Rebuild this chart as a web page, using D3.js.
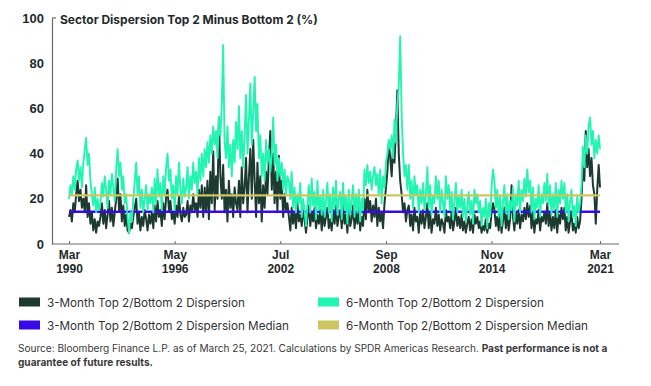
<!DOCTYPE html>
<html>
<head>
<meta charset="utf-8">
<script src="https://cdn.jsdelivr.net/npm/d3@7"></script>
<style>
  body { margin: 0; background: #ffffff; }
  svg { display: block; font-family: "Inter", "Roboto", sans-serif; }
</style>
</head>
<body>
<div class="chart"></div>
<script>
// monthly readings, Mar 1990 .. Mar 2021
var startMonth = new Date(1990, 2, 1);
var endMonth = new Date(2021, 2, 1);

// 3-month top 2 / bottom 2 dispersion (%)
var dispersion3m = [
  12, 15, 10, 18, 14, 22, 28, 19, 24, 16,             // 1990
  20, 14, 26, 12, 18, 9, 14, 6, 11, 5, 10, 8,         // 1991
  12, 18, 9, 15, 7, 13, 19, 10, 16, 8, 14, 20,        // 1992
  29, 15, 22, 10, 17, 8, 13, 6, 5, 9, 7, 12,          // 1993
  16, 20, 9, 14, 6, 12, 8, 15, 11, 6, 13, 9,          // 1994
  14, 7, 17, 10, 19, 12, 15, 8, 18, 11, 21, 24,       // 1995
  15, 19, 11, 14, 9, 17, 12, 21, 13, 10, 16, 12,      // 1996
  13, 19, 10, 17, 14, 22, 15, 18, 12, 24, 16, 26,     // 1997
  12, 25, 14, 28, 11, 32, 18, 41, 15, 30, 20, 56,     // 1998
  30, 20, 35, 14, 24, 10, 28, 16, 22, 12, 25, 18,     // 1999
  15, 28, 12, 34, 18, 25, 38, 14, 30, 42, 20, 46,     // 2000
  28, 12, 36, 18, 30, 10, 26, 16, 32, 22, 38, 50,     // 2001
  24, 40, 18, 32, 14, 39, 20, 28, 12, 22, 15, 18,     // 2002
  12, 6, 16, 9, 14, 7, 18, 10, 13, 8, 15, 11,         // 2003
  5, 12, 17, 8, 14, 10, 16, 7, 13, 9, 15, 6,          // 2004
  14, 8, 12, 16, 7, 11, 6, 15, 9, 17, 8, 12,          // 2005
  15, 7, 18, 9, 13, 5, 16, 8, 11, 17, 7, 14,          // 2006
  9, 16, 6, 12, 8, 20, 11, 24, 14, 19, 10, 17,        // 2007
  12, 20, 8, 16, 10, 14, 7, 18, 25, 32, 45, 38,       // 2008
  30, 44, 36, 50, 68, 40, 28, 22, 14, 18, 10, 15,     // 2009
  17, 8, 13, 6, 16, 10, 12, 5, 14, 9, 15, 7,          // 2010
  12, 18, 7, 14, 5, 11, 9, 16, 8, 13, 6, 11,          // 2011
  9, 5, 15, 10, 12, 7, 14, 6, 10, 16, 8, 12,          // 2012
  7, 13, 6, 10, 5, 9, 12, 6, 11, 5, 13, 9,            // 2013
  12, 7, 10, 5, 8, 6, 11, 5, 9, 7, 14, 18,            // 2014
  15, 8, 12, 6, 14, 5, 10, 16, 7, 13, 6, 11,          // 2015
  26, 12, 6, 14, 9, 15, 7, 13, 10, 16, 11, 18,        // 2016
  12, 17, 7, 14, 5, 11, 9, 15, 6, 12, 10, 14,         // 2017
  9, 18, 8, 14, 6, 12, 7, 15, 5, 13, 9, 16,           // 2018
  11, 16, 6, 12, 5, 10, 14, 6, 9, 5, 12, 7,           // 2019
  10, 20, 35, 28, 50, 34, 42, 30, 38, 26, 22, 9,      // 2020
  24, 35, 25                                          // 2021
];

// 6-month top 2 / bottom 2 dispersion (%)
var dispersion6m = [
  20, 26, 22, 30, 24, 33, 37, 28, 34, 25,             // 1990
  36, 42, 47, 35, 40, 28, 22, 17, 25, 14, 20, 15,     // 1991
  18, 27, 21, 30, 24, 16, 28, 22, 31, 25, 19, 33,     // 1992
  42, 30, 36, 24, 30, 18, 22, 12, 5, 14, 10, 20,      // 1993
  28, 36, 22, 30, 16, 24, 14, 20, 26, 15, 22, 18,     // 1994
  25, 14, 29, 18, 33, 21, 27, 15, 30, 22, 34, 40,     // 1995
  28, 33, 20, 26, 15, 30, 22, 36, 24, 18, 29, 21,     // 1996
  25, 34, 20, 30, 24, 36, 27, 32, 22, 38, 28, 40,     // 1997
  30, 42, 34, 45, 36, 48, 40, 52, 44, 50, 38, 56,     // 1998
  48, 62, 88, 45, 38, 52, 34, 44, 30, 46, 36, 54,     // 1999
  42, 61, 38, 50, 34, 48, 66, 40, 55, 71, 44, 58,     // 2000
  74, 50, 62, 38, 48, 30, 40, 28, 46, 36, 42, 32,     // 2001
  40, 56, 35, 44, 28, 38, 30, 36, 24, 33, 22, 30,     // 2002
  28, 20, 32, 16, 25, 14, 22, 18, 27, 12, 20, 15,     // 2003
  8, 18, 26, 14, 29, 17, 23, 11, 28, 15, 21, 13,      // 2004
  24, 12, 19, 27, 14, 22, 10, 25, 16, 28, 13, 20,     // 2005
  23, 11, 27, 15, 21, 9, 24, 13, 19, 26, 12, 22,      // 2006
  14, 24, 10, 20, 15, 33, 26, 35, 27, 32, 24, 30,     // 2007
  34, 26, 31, 22, 33, 18, 30, 25, 36, 40, 46, 42,     // 2008
  48, 38, 55, 45, 62, 70, 92, 58, 40, 30, 35, 24,     // 2009
  35, 20, 28, 16, 30, 22, 26, 14, 24, 18, 27, 15,     // 2010
  22, 34, 16, 26, 13, 21, 18, 30, 20, 28, 14, 24,     // 2011
  18, 12, 30, 20, 26, 15, 23, 11, 19, 27, 14, 21,     // 2012
  16, 24, 12, 20, 10, 17, 23, 13, 19, 9, 24, 18,      // 2013
  22, 14, 19, 8, 16, 12, 20, 7, 18, 12, 25, 33,       // 2014
  28, 16, 24, 12, 21, 8, 18, 26, 14, 22, 11, 19,      // 2015
  15, 25, 10, 22, 17, 28, 14, 24, 19, 29, 21, 33,     // 2016
  23, 28, 14, 25, 11, 20, 16, 26, 12, 22, 18, 27,     // 2017
  19, 31, 17, 26, 13, 22, 15, 27, 12, 24, 18, 28,     // 2018
  20, 27, 14, 22, 10, 19, 24, 12, 17, 8, 21, 14,      // 2019
  18, 26, 43, 34, 48, 40, 52, 56, 44, 50, 38, 46,     // 2020
  40, 48, 42                                          // 2021
];

var median3m = 14.3;
var median6m = 21.5;

var yTicks = [0, 20, 40, 60, 80, 100];
var xTicks = [new Date(1990, 2, 1), new Date(1996, 4, 1), new Date(2002, 6, 1),
              new Date(2008, 8, 1), new Date(2014, 10, 1), new Date(2021, 2, 1)];

var legendItems = ["3-Month Top 2/Bottom 2 Dispersion", "6-Month Top 2/Bottom 2 Dispersion",
                   "3-Month Top 2/Bottom 2 Dispersion Median", "6-Month Top 2/Bottom 2 Dispersion Median"];

///////////////////////////////////////////

var width = 651;
var height = 386;

var colors = {
  dark: "#1d3a31",
  mint: "#22f4b2",
  blue: "#3a0ae6",
  olive: "#cdc564",
  ink: "#1f2b2b"
};

var svg = d3.select(".chart").append("svg")
    .attr("width", width)
    .attr("height", height);

var x = d3.scaleTime()
    .domain([startMonth, endMonth])
    .range([69, 600]);

var y = d3.scaleLinear()
    .domain([0, 100])
    .range([244, 18]);

function monthOf(i) { return d3.timeMonth.offset(startMonth, i); }

var line = d3.line()
    .x(function(d, i) { return x(monthOf(i)); })
    .y(function(d) { return y(d); });

// fit a text element to the width it has in the reference
function fitText(sel, w) {
  var cur = sel.node().getComputedTextLength();
  var fs = parseFloat(sel.style("font-size"));
  sel.style("font-size", (fs * w / cur) + "px");
}

// axes
var yAxis = svg.append("g")
    .attr("transform", "translate(52,0)")
    .call(d3.axisLeft(y).tickValues(yTicks).tickSize(0).tickSizeOuter(0).tickPadding(8));
yAxis.select(".domain").attr("stroke", "#6a6a6a").attr("stroke-width", 1.2);
yAxis.selectAll("text")
    .attr("fill", colors.ink)
    .style("font-size", "13px")
    .style("font-weight", 700);
yAxis.append("line")
    .attr("x1", 0).attr("x2", 4)
    .attr("y1", y(100)).attr("y2", y(100))
    .attr("stroke", "#6a6a6a").attr("stroke-width", 1.2);

svg.append("line")
    .attr("x1", 52).attr("x2", 619)
    .attr("y1", y(0)).attr("y2", y(0))
    .attr("stroke", "#6a6a6a").attr("stroke-width", 1.2);

var xAxis = svg.append("g")
    .attr("transform", "translate(0," + y(0) + ")")
    .call(d3.axisBottom(x).tickValues(xTicks).tickSize(-3).tickPadding(6)
      .tickFormat(d3.timeFormat("%b")));
xAxis.select(".domain").remove();
xAxis.selectAll(".tick line").attr("stroke", "#6a6a6a");
xAxis.selectAll(".tick text")
    .attr("fill", colors.ink)
    .style("font-size", "12px")
    .style("font-weight", 700);
xAxis.selectAll(".tick").append("text")
    .attr("y", 20)
    .attr("dy", "0.71em")
    .attr("fill", colors.ink)
    .style("font-size", "12px")
    .style("font-weight", 700)
    .text(d3.timeFormat("%Y"));

// series: dark under the median, mint over it
svg.append("path")
    .datum(dispersion3m)
    .attr("d", line)
    .attr("fill", "none")
    .attr("stroke", colors.dark)
    .attr("stroke-width", 2)
    .attr("stroke-linejoin", "round");

svg.append("line")
    .attr("x1", x(startMonth)).attr("x2", x(endMonth))
    .attr("y1", y(median3m)).attr("y2", y(median3m))
    .attr("stroke", colors.blue)
    .attr("stroke-width", 2.6);

svg.append("path")
    .datum(dispersion6m)
    .attr("d", line)
    .attr("fill", "none")
    .attr("stroke", colors.mint)
    .attr("stroke-width", 1.9)
    .attr("stroke-linejoin", "round");

svg.append("line")
    .attr("x1", x(startMonth)).attr("x2", x(endMonth))
    .attr("y1", y(median6m)).attr("y2", y(median6m))
    .attr("stroke", colors.olive)
    .attr("stroke-width", 2.2);

// title
var title = svg.append("text")
    .attr("x", 60)
    .attr("y", 23.5)
    .attr("fill", colors.ink)
    .style("font-size", "12px")
    .style("font-weight", 700)
    .text("Sector Dispersion Top 2 Minus Bottom 2 (%)");
fitText(title, 258);

// legend
var legendColors = [colors.dark, colors.mint, colors.blue, colors.olive];
var legend = svg.append("g").selectAll("g")
    .data(legendItems)
  .enter().append("g")
    .attr("transform", function(d, i) {
      return "translate(" + (i % 2 ? 318 : 19) + "," + (i < 2 ? 302 : 325) + ")";
    });
legend.append("rect")
    .attr("x", 0).attr("y", -4.5)
    .attr("width", 21).attr("height", 9)
    .attr("fill", function(d, i) { return legendColors[i]; });
var legendText = legend.append("text")
    .attr("x", 28)
    .attr("y", 4.5)
    .attr("fill", "#333333")
    .style("font-size", "12px")
    .text(function(d) { return d; });
var lt = d3.select(legendText.nodes()[0]);
fitText(lt, 198);
legendText.style("font-size", lt.style("font-size"));

// source
var src = svg.append("text")
    .attr("x", 18)
    .attr("y", 351.5)
    .attr("fill", "#3a3a3a")
    .style("font-size", "10px");
src.append("tspan")
    .text("Source: Bloomberg Finance L.P. as of March 25, 2021. Calculations by SPDR Americas Research. ");
src.append("tspan")
    .style("font-weight", 700)
    .text("Past performance is not a");
fitText(src, 590);

svg.append("text")
    .attr("x", 18)
    .attr("y", 365.5)
    .attr("fill", "#3a3a3a")
    .style("font-size", src.style("font-size"))
    .style("font-weight", 700)
    .text("guarantee of future results.");
</script>
</body>
</html>
